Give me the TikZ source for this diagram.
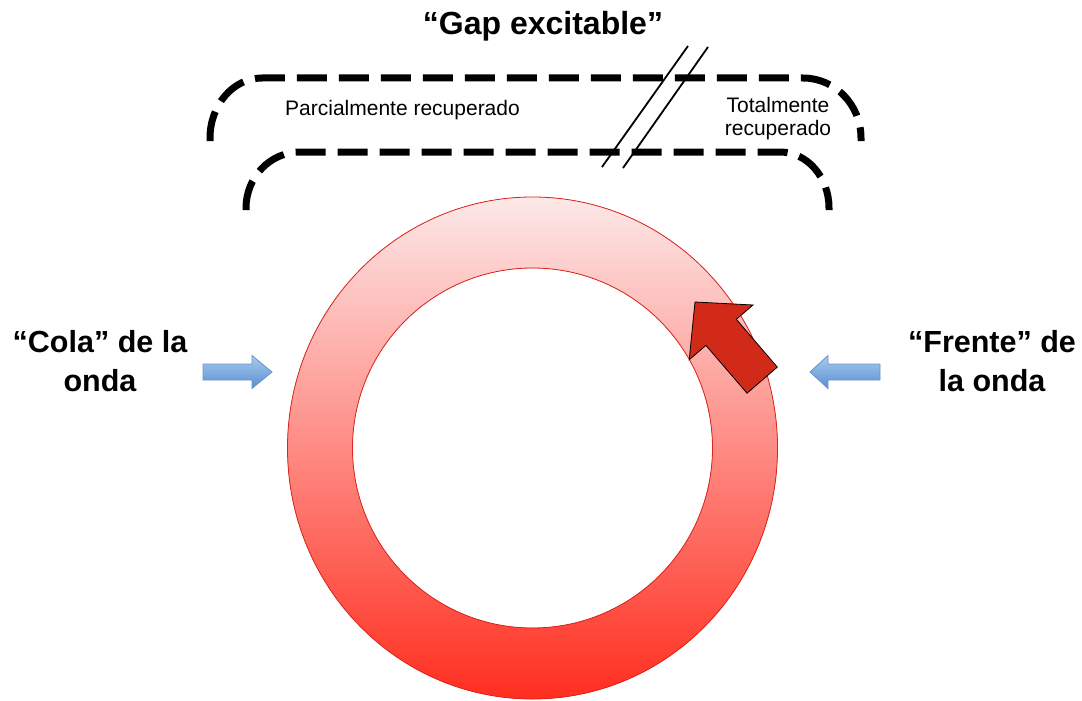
\documentclass[tikz,border=0pt]{standalone}
\usepackage{fontspec}
\setmainfont{Liberation Sans}
\definecolor{ringtop}{HTML}{FDE8E8}
\definecolor{ringmid}{HTML}{F99C98}
\definecolor{ringbot}{HTML}{FF2E1F}
\definecolor{ringedge}{HTML}{E0241C}
\definecolor{arrowred}{HTML}{D22A18}
\definecolor{bluetop}{HTML}{A8CAEE}
\definecolor{bluebot}{HTML}{5A8FD3}
\definecolor{blueedge}{HTML}{6A93C8}
\begin{document}
\begin{tikzpicture}[x=1pt,y=-1pt,
  bracket/.style={line width=7pt, dash pattern=on 30pt off 12pt},
  slash/.style={line width=1.8pt},
  biglabel/.style={font=\bfseries\fontsize{30.5}{39}\selectfont, align=center, inner sep=0pt},
  note/.style={font=\fontsize{21}{23}\selectfont, align=center, inner sep=0pt},
  bluearrow/.style={draw=blueedge, line width=0.8pt, top color=bluetop, bottom color=bluebot},
  wavefront/.style={draw=black, line width=0.8pt, fill=arrowred, line join=miter}
]
\useasboundingbox (0,0) rectangle (1082,701);

% ring of excitable tissue
\coordinate (c) at (532.5,448);
\fill[even odd rule, top color=ringtop, middle color=ringmid, bottom color=ringbot]
  (c) ellipse[x radius=245pt, y radius=251pt] (c) circle (180pt);
\draw[ringedge, line width=0.8pt] (c) ellipse[x radius=245pt, y radius=251pt];
\draw[ringedge, line width=0.8pt] (c) circle (180pt);

% leading wave front arrow
\draw[wavefront] (695,302) -- (753,305) -- (736.3,319.3) -- (777.3,367.1)
  -- (747,393.2) -- (705.9,345.4) -- (689.2,359.7) -- cycle;

% dashed brackets of the gap
\draw[bracket] (210,141) -- (210,138)
  arc[start angle=180, end angle=90, x radius=52pt, y radius=60pt]
  -- (803,78)
  arc[start angle=90, end angle=0, x radius=58pt, y radius=60pt] -- (861,141);
\draw[bracket] (246,210) -- (246,208)
  arc[start angle=180, end angle=90, x radius=54pt, y radius=56pt]
  -- (780,152)
  arc[start angle=90, end angle=0, x radius=49pt, y radius=56pt] -- (829,210);

% boundary between the two zones
\coordinate (s1a) at (688,46);
\coordinate (s1b) at (602,167);
\coordinate (s2a) at (708,47);
\coordinate (s2b) at (623,168);
\draw[slash] (s1a) -- (s1b);
\draw[slash] (s2a) -- (s2b);

% labels (base anchor of a two-line node is its last baseline)
\node[biglabel, font=\bfseries\fontsize{32}{38}\selectfont, anchor=base] (gap) at (543,35) {“Gap excitable”};
\node[note, anchor=base west] (parcial) at (285,115) {Parcialmente recuperado};
\node[note, anchor=base] (total) at (778,135) {Totalmente\\recuperado};
\node[biglabel, anchor=base] (cola) at (100,391) {“Cola” de la\\onda};
\node[biglabel, anchor=base] (frente) at (992,391) {“Frente” de\\la onda};

% pointers towards the ring
\draw[bluearrow] (203,364) -- (252,364) -- (252,355.5) -- (272,372) -- (252,388.5)
  -- (252,380) -- (203,380) -- cycle;
\draw[bluearrow] (880,364) -- (828,364) -- (828,355.5) -- (810,372) -- (828,388.5)
  -- (828,380) -- (880,380) -- cycle;
\end{tikzpicture}
\end{document}
